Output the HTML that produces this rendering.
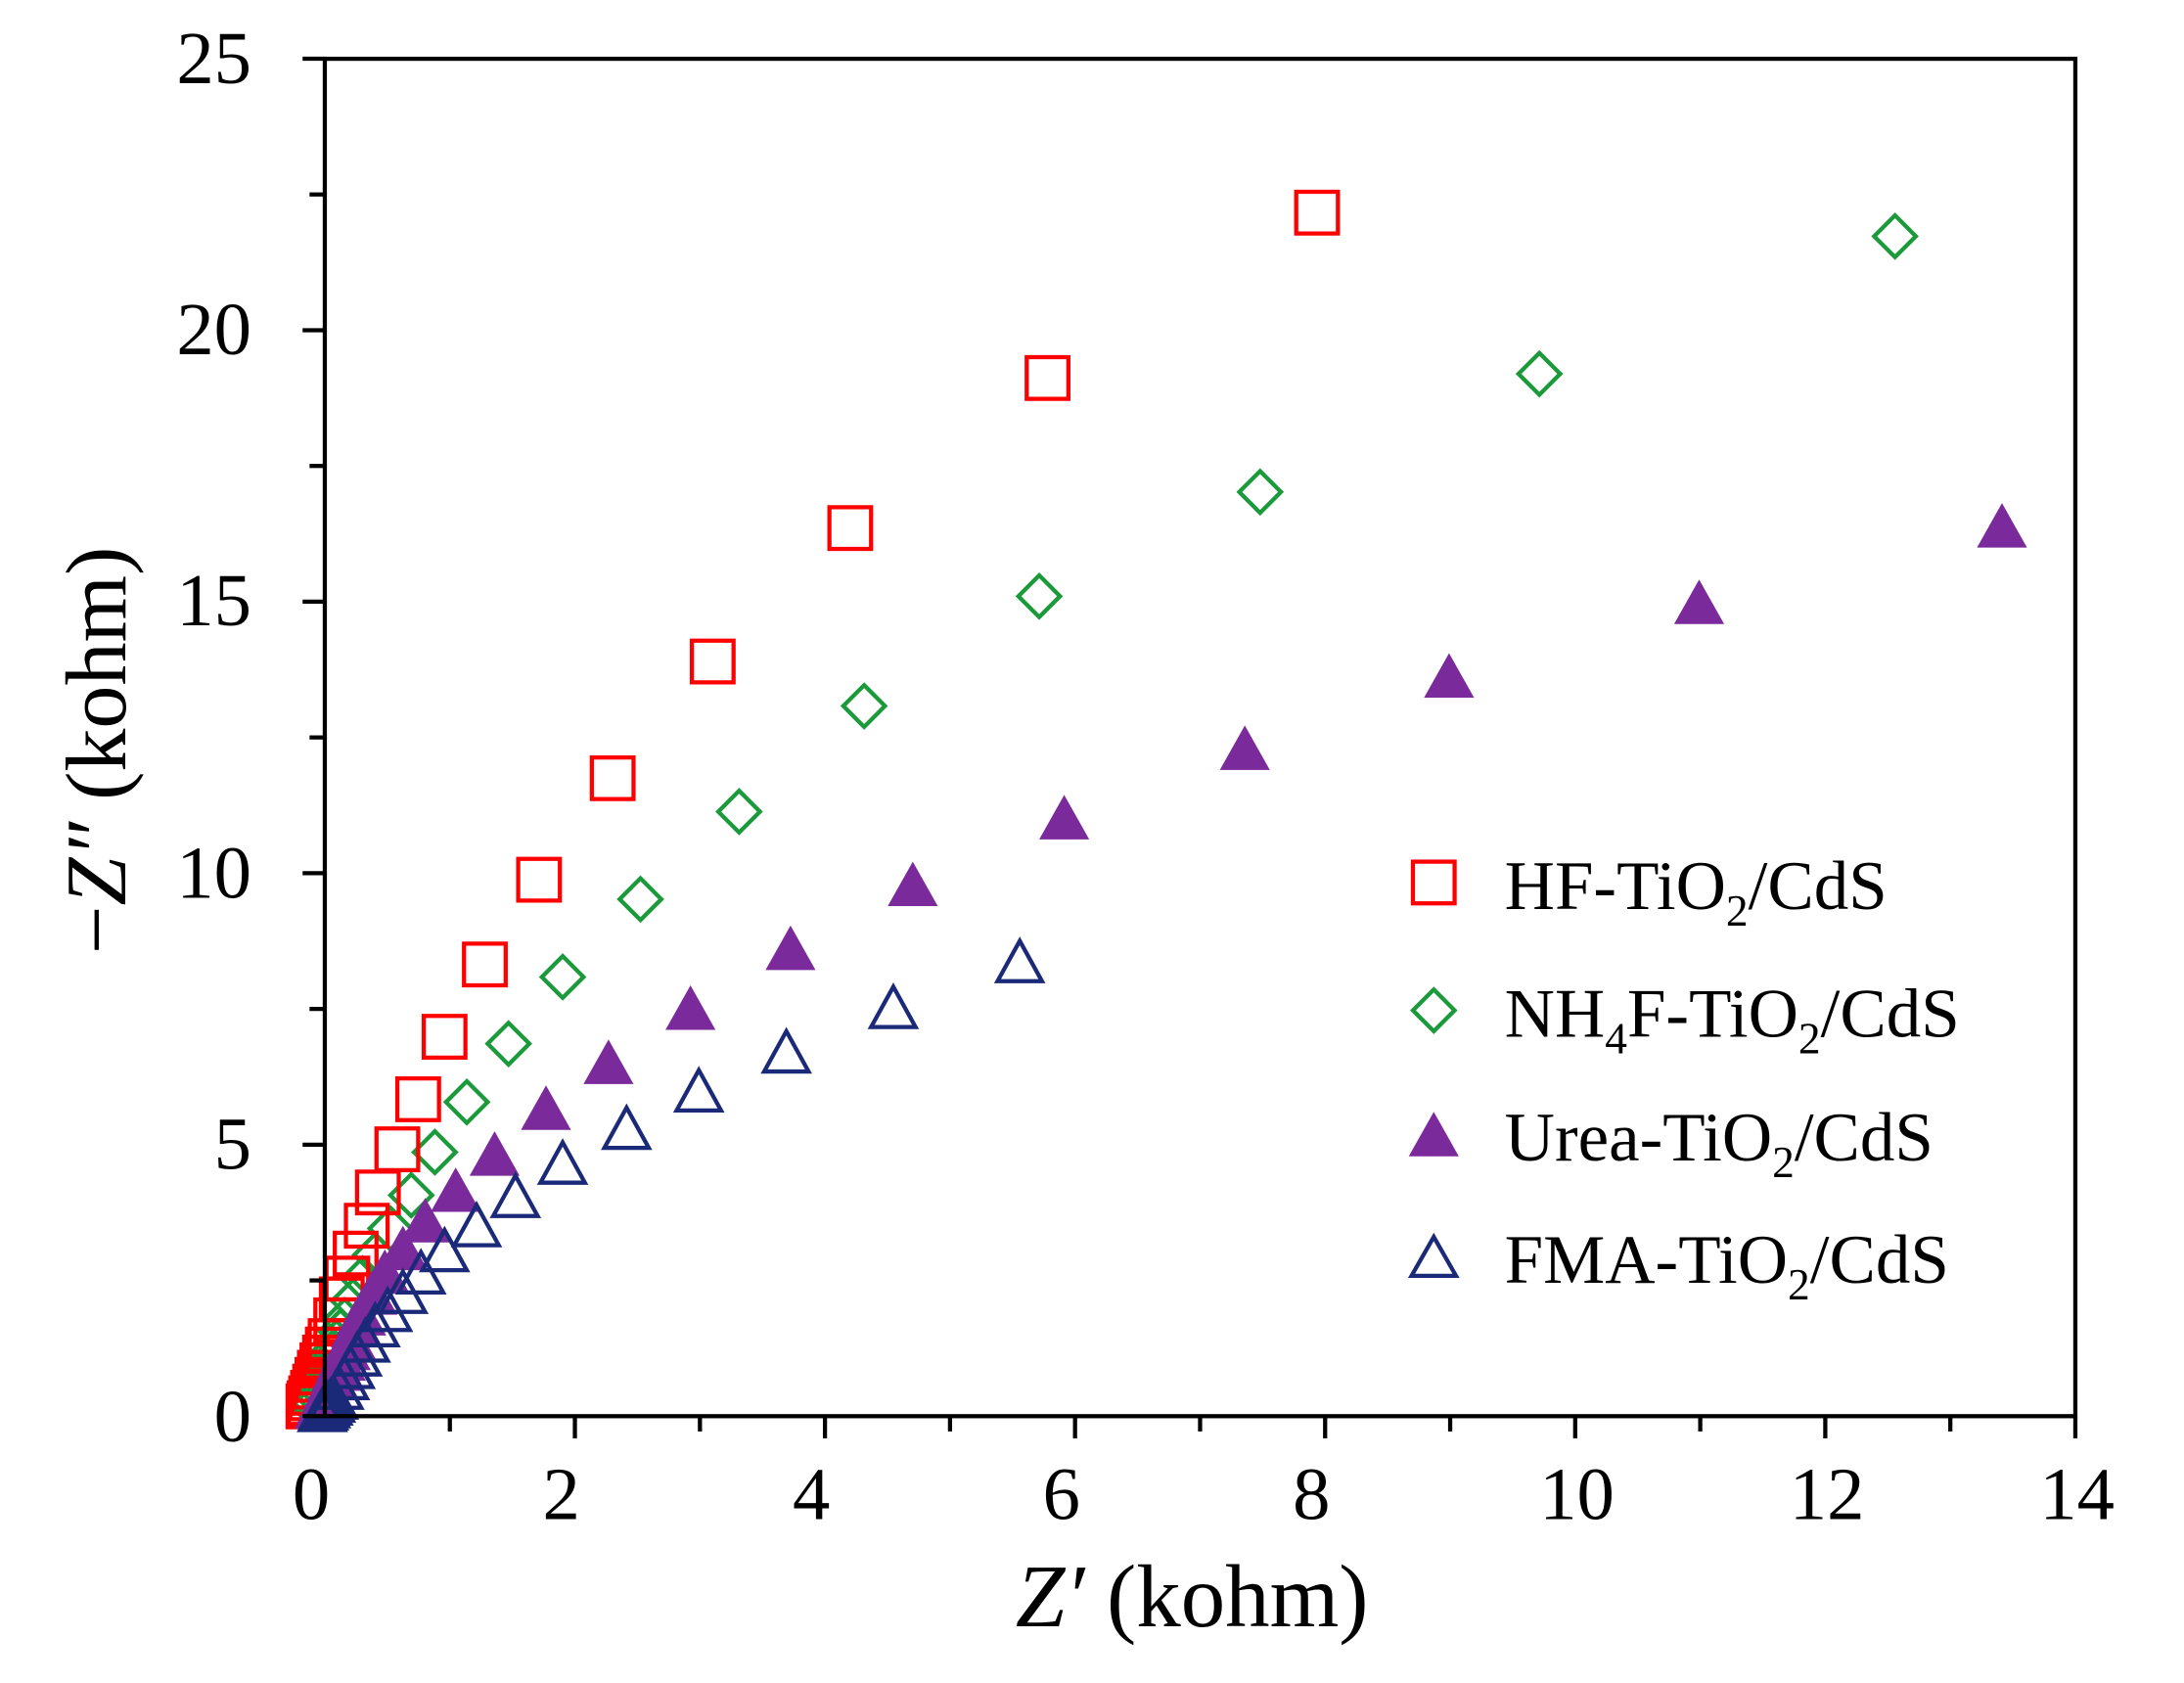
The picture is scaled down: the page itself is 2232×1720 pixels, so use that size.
<!DOCTYPE html>
<html><head><meta charset="utf-8"><style>
html,body{margin:0;padding:0;background:#fff;}
svg{display:block;}
text{font-family:"Liberation Serif",serif;fill:#000;}
</style></head><body>
<svg id="s" width="2232" height="1720" viewBox="0 0 1572 1211" preserveAspectRatio="none" xmlns="http://www.w3.org/2000/svg">
<rect width="1572" height="1211" fill="#fff"/>
<g id="pts"></g>
<rect x="233.8" y="42.3" width="1260" height="976.7" fill="none" stroke="#000" stroke-width="3"/>
<g id="ticks" stroke="#000" stroke-width="3"></g>
<g font-size="54" text-anchor="middle">
<text x="224" y="1093">0</text><text x="404" y="1093">2</text><text x="584" y="1093">4</text><text x="764" y="1093">6</text><text x="944" y="1093">8</text><text x="1135" y="1093">10</text><text x="1315" y="1093">12</text><text x="1495" y="1093">14</text>
</g>
<g font-size="54" text-anchor="end">
<text x="181" y="1037">0</text><text x="181" y="841">5</text><text x="181" y="646">10</text><text x="181" y="450">15</text><text x="181" y="255">20</text><text x="181" y="60">25</text>
</g>
<text x="858" y="1170" font-size="64" text-anchor="middle"><tspan font-style="italic">Z′</tspan> (kohm)</text>
<text transform="translate(90,540) rotate(-90)" font-size="62" text-anchor="middle">−<tspan font-style="italic">Z″</tspan> (kohm)</text>
<g font-size="50">
<rect x="1017" y="620" width="30" height="30" fill="none" stroke="#f00" stroke-width="3"/>
<text x="1083" y="654">HF-TiO<tspan font-size="32" dy="12">2</tspan><tspan dy="-12">/CdS</tspan></text>
<path d="M1032 712 L1047 727 L1032 742 L1017 727 Z" fill="none" stroke="#1a9a3a" stroke-width="3"/>
<text x="1083" y="746">NH<tspan font-size="32" dy="12">4</tspan><tspan dy="-12">F-TiO</tspan><tspan font-size="32" dy="12">2</tspan><tspan dy="-12">/CdS</tspan></text>
<path d="M1032 800 L1050 832 L1014 832 Z" fill="#7b2a9c"/>
<text x="1083" y="835">Urea-TiO<tspan font-size="32" dy="12">2</tspan><tspan dy="-12">/CdS</tspan></text>
<path d="M1032 890 L1048 918 L1016 918 Z" fill="none" stroke="#1b2a78" stroke-width="3"/>
<text x="1083" y="923">FMA-TiO<tspan font-size="32" dy="12">2</tspan><tspan dy="-12">/CdS</tspan></text>
</g>
</svg>
<script>
var NS="http://www.w3.org/2000/svg";
var t=document.getElementById('ticks'),X0=233.8,Y0=1019,ux=90,uy=39.07;
function ln(x1,y1,x2,y2){var l=document.createElementNS(NS,'line');l.setAttribute('x1',x1);l.setAttribute('y1',y1);l.setAttribute('x2',x2);l.setAttribute('y2',y2);t.appendChild(l);}
for(var i=1;i<=14;i++){var x=X0+i*ux;ln(x,Y0,x,Y0+(i%2==0?16:11));}
for(var j=0;j<=10;j++){var y=Y0-j*2.5*uy;ln(X0,y,X0-(j%2==0?16:11),y);}
var g=document.getElementById('pts');
function tail(a,end,n){var L=a[a.length-1],out=a.slice();for(var k=1;k<=n;k++){var f=k/n;f=1-Math.pow(1-f,1.3);out.push([L[0]+(end[0]-L[0])*f,L[1]+(end[1]-L[1])*f]);}return out;}
var hf=tail([[948,153],[754,272],[612,380],[513,476],[441,560],[388,633],[349,694],[320,746],[301,791],[286,827],[272,858],[264,882],[256,902],[250,920],[246,935],[242,950],[238,965]],[222,1012],10);
var nh=tail([[1364,170],[1108,269],[907,354],[748,429],[622,508],[532,584],[461,647],[405,703],[366,751],[336,793],[313,829],[296,860],[281,884],[270,903],[261,920],[254,936],[248,950]],[225,1012],10);
var ur=tail([[1441,380],[1223,435],[1043,488],[896,540],[766,590],[657,638],[569,684],[497,727],[438,766],[393,799],[356,832],[328,858],[306,880],[290,900],[277,917],[268,932],[260,947]],[230,1014],10);
var fm=tail([[734,693],[643,726],[566,758],[503,786],[451,813],[405,838],[371,862],[343,883],[320,901],[303,917],[290,931],[279,944],[270,955],[263,966],[257,976],[252,985],[248,993],[244,1000],[240,1007]],[232,1016],5);
function add(d,fill,stroke){var p=document.createElementNS(NS,'path');p.setAttribute('d',d);p.setAttribute('fill',fill);if(stroke){p.setAttribute('stroke',stroke);p.setAttribute('stroke-width','3');}g.appendChild(p);}
nh.forEach(function(p){add('M'+p[0]+' '+(p[1]-15)+'L'+(p[0]+15)+' '+p[1]+'L'+p[0]+' '+(p[1]+15)+'L'+(p[0]-15)+' '+p[1]+'Z','none','#1a9a3a');});
hf.forEach(function(p){add('M'+(p[0]-15)+' '+(p[1]-15)+'h30v30h-30Z','none','#f00');});
ur.forEach(function(p){add('M'+p[0]+' '+(p[1]-18)+'L'+(p[0]+18)+' '+(p[1]+14)+'L'+(p[0]-18)+' '+(p[1]+14)+'Z','#7b2a9c');});
fm.forEach(function(p){add('M'+p[0]+' '+(p[1]-16)+'L'+(p[0]+16)+' '+(p[1]+13)+'L'+(p[0]-16)+' '+(p[1]+13)+'Z','none','#1b2a78');});
</script>
</body></html>
